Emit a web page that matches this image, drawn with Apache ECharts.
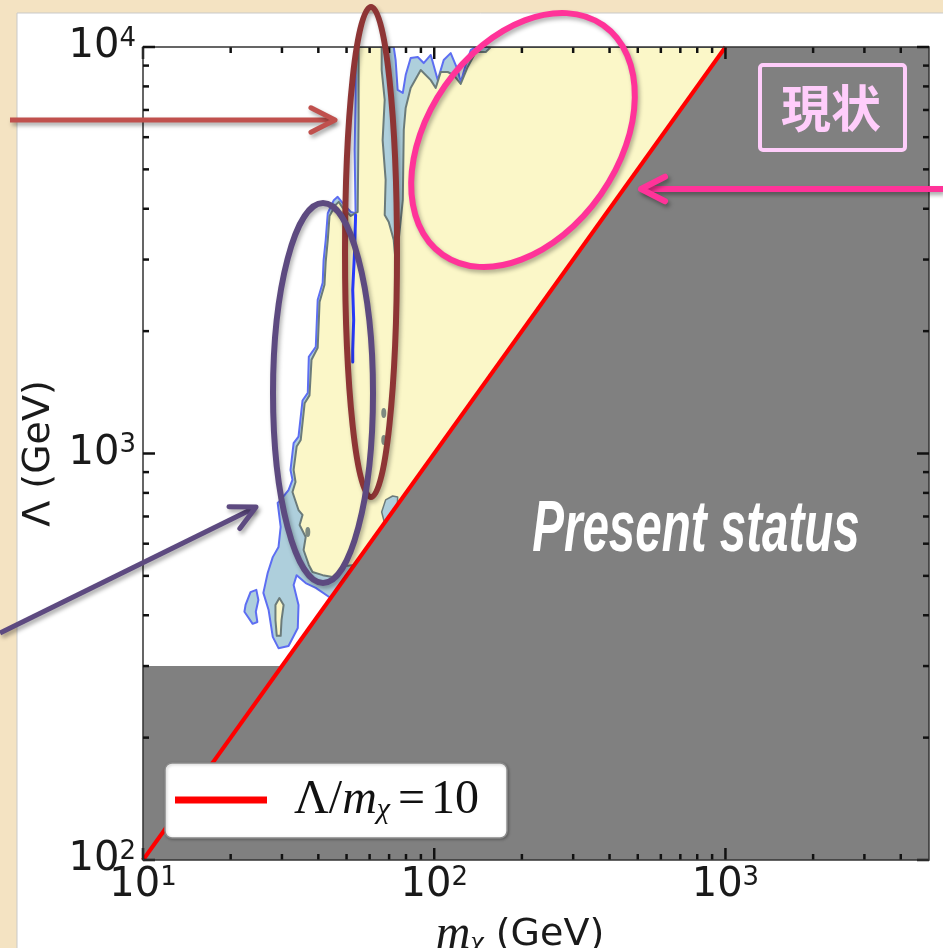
<!DOCTYPE html>
<html><head><meta charset="utf-8">
<script src="https://cdn.jsdelivr.net/npm/echarts@6/dist/echarts.min.js"></script>
<style>html,body{margin:0;padding:0;background:#f4e3c2;}#c{width:943px;height:948px;}</style>
</head><body><div id="c"></div><script>
// ---- data (mχ in GeV, Λ in GeV) ----
const xMajorTicks = [10, 100, 1000];
const xMinorTicks = [20, 30, 40, 50, 60, 70, 80, 90, 200, 300, 400, 500, 600, 700, 800, 900, 2000, 3000, 4000];
const yMajorTicks = [100, 1000, 10000];
const yMinorTicks = [200, 300, 400, 500, 600, 700, 800, 900, 2000, 3000, 4000, 5000, 6000, 7000, 8000, 9000];
const ratioLine = [[10, 100], [1000, 10000]];
const excludedRegion = [[10, 100], [10, 300], [30, 300], [1000, 10000], [5000, 10000], [5000, 100]];
const outerContour = [[53.7,10000],[53.7,7410],[53.3,5580],[53.7,3900],[51.7,3930],[48.5,4130],[46.6,4280],[45.2,4200],[43.1,3900],[42.4,3350],[41.7,2990],[41.4,2630],[39.8,2390],[39.2,1830],[37.1,1730],[36.8,1410],[35.3,1350],[34.2,1100],[32.9,1060],[32.1,911],[32.6,861],[31.6,813],[29.7,769],[29.0,756],[29.7,660],[29.2,589],[27.9,556],[26.8,508],[25.9,454],[27.0,412],[27.9,354],[29.2,332],[31.6,336],[34.0,372],[34.2,424],[32.9,475],[33.7,502],[36.2,480],[39.2,467],[44.1,441],[1000,10000],[138.9,10000],[133.5,9830],[128.3,9030],[123.3,8200],[120.4,8780],[113.9,9660],[107.8,9290],[102.8,8290],[97.3,9560],[92.0,9130],[87.8,9450],[83.0,9400],[79.8,8530],[78.0,7710],[74.9,7840],[73.7,9290],[72.6,10000]];
const outerIsland = [[22.5,424],[23.4,456],[24.5,462],[24.9,436],[24.4,408],[24.7,385],[23.8,381],[22.3,408]];
const innerContour = [[55.0,10000],[55.0,6610],[54.6,3930],[51.7,3840],[48.5,4020],[47.0,4160],[45.9,4090],[43.7,3840],[43.1,3350],[42.4,2960],[42.0,2600],[40.4,2360],[39.8,1820],[37.9,1700],[37.3,1390],[35.9,1330],[34.8,1080],[33.7,1040],[32.9,911],[33.4,851],[32.6,804],[34.2,726],[35.3,706],[34.5,667],[36.2,623],[35.6,579],[37.1,532],[38.2,511],[41.4,502],[44.8,497],[49.6,529],[53.2,532],[1000,10000],[156.4,10000],[150.3,9720],[138.9,9720],[130.3,8930],[123.3,8110],[116.7,8530],[111.3,8680],[105.3,8680],[101.2,7930],[97.3,8290],[89.9,8780],[83.0,7930],[79.8,7080],[78.6,6250],[78.0,4200],[75.5,3350],[74.9,2390],[73.7,2390],[73.7,2960],[72.6,3350],[69.8,3710],[67.6,3860],[68.1,4710],[66.5,5900],[67.6,7410],[66.0,8780],[66.0,10000]];
const innerIsland = [[28.5,424],[29.4,441],[30.4,424],[29.9,389],[29.7,356],[28.8,356],[28.5,389]];
const bandIsland = [[67.5,675],[66.0,718],[68.1,769],[72.0,786],[74.9,782],[74.7,747]];
const slitLine = [[53.7,3860],[53.3,3170],[52.5,2525],[52.9,2130],[52.5,1800],[52.5,1680]];
const spots = [[36.8,641],[67.1,1258],[67.1,1080]];
const legendLabel = 'Λ/mχ = 10';

function polygonSeries(name, pts, style, z) {
  return {
    type: 'custom', name: name, z: z, silent: true, clip: true,
    coordinateSystem: 'cartesian2d', encode: {x: 0, y: 1}, data: pts,
    renderItem: function (params, api) {
      if (params.dataIndex !== 0) return null;
      return {type: 'polygon', shape: {points: pts.map(function (p) { return api.coord(p); })}, style: style};
    }
  };
}
function polylineSeries(name, pts, style, z) {
  return {
    type: 'custom', name: name, z: z, silent: true, clip: true,
    coordinateSystem: 'cartesian2d', encode: {x: 0, y: 1}, data: pts,
    renderItem: function (params, api) {
      if (params.dataIndex !== 0) return null;
      return {type: 'polyline', shape: {points: pts.map(function (p) { return api.coord(p); })}, style: style};
    }
  };
}
const tickStyle = {stroke: '#111', lineWidth: 2.5};
function xTickSeries() {
  const data = xMajorTicks.map(v => [v, 100, 1]).concat(xMinorTicks.map(v => [v, 100, 0]));
  return {
    type: 'custom', name: 'xticks', z: 8, silent: true, clip: false, coordinateSystem: 'cartesian2d', encode: {x: 0, y: 1}, data: data,
    renderItem: function (params, api) {
      const cs = params.coordSys;
      const x = api.coord([api.value(0), api.value(1)])[0];
      const len = api.value(2) ? 12 : 6;
      const b = cs.y + cs.height, t = cs.y;
      return {type: 'group', children: [
        {type: 'line', shape: {x1: x, y1: b, x2: x, y2: b - len}, style: tickStyle},
        {type: 'line', shape: {x1: x, y1: t, x2: x, y2: t + len}, style: tickStyle}
      ]};
    }
  };
}
function yTickSeries() {
  const data = yMajorTicks.map(v => [10, v, 1]).concat(yMinorTicks.map(v => [10, v, 0]));
  return {
    type: 'custom', name: 'yticks', z: 8, silent: true, clip: false, coordinateSystem: 'cartesian2d', encode: {x: 0, y: 1}, data: data,
    renderItem: function (params, api) {
      const cs = params.coordSys;
      const y = api.coord([api.value(0), api.value(1)])[1];
      const len = api.value(2) ? 12 : 6;
      const l = cs.x, r = cs.x + cs.width;
      const children = [
        {type: 'line', shape: {x1: l, y1: y, x2: l + len, y2: y}, style: tickStyle},
        {type: 'line', shape: {x1: r, y1: y, x2: r - len, y2: y}, style: tickStyle}
      ];
      if (params.dataIndex === 0) {
        children.push({type: 'rect', shape: {x: cs.x, y: cs.y, width: cs.width, height: cs.height},
          style: {fill: null, stroke: '#333', lineWidth: 1.5}});
      }
      return {type: 'group', children: children};
    }
  };
}
function arrow(x1, y1, x2, y2, color, w) {
  const dx = x2 - x1, dy = y2 - y1, L = Math.hypot(dx, dy), ux = dx / L, uy = dy / L;
  const hl = 27, a = 27 * Math.PI / 180, c = Math.cos(a), s = Math.sin(a);
  const p1 = [x2 - hl * (ux * c - uy * s), y2 - hl * (uy * c + ux * s)];
  const p2 = [x2 - hl * (ux * c + uy * s), y2 - hl * (uy * c - ux * s)];
  const sh = {shadowBlur: 4, shadowOffsetX: 2, shadowOffsetY: 3, shadowColor: 'rgba(0,0,0,0.35)'};
  return [
    {type: 'line', z: 60, shape: {x1: x1, y1: y1, x2: x2 - ux * 2, y2: y2 - uy * 2}, style: Object.assign({stroke: color, lineWidth: w, lineCap: 'butt'}, sh)},
    {type: 'polyline', z: 60, shape: {points: [p1, [x2, y2], p2]}, style: Object.assign({stroke: color, lineWidth: w, fill: null, lineCap: 'round', lineJoin: 'round'}, sh)}
  ];
}
function fmtLog(value) {
  const e = Math.log10(value);
  if (Math.abs(e - Math.round(e)) > 1e-6) return '';
  return '{b|10}{e|' + Math.round(e) + '}';
}
const labelRich = {
  b: {fontFamily: 'DejaVu Sans', fontSize: 40, lineHeight: 42, color: '#1a1a1a'},
  e: {fontFamily: 'DejaVu Sans', fontSize: 26, lineHeight: 14, verticalAlign: 'top', color: '#1a1a1a'}
};
const sh = {shadowBlur: 4, shadowOffsetX: 2, shadowOffsetY: 3, shadowColor: 'rgba(0,0,0,0.3)'};
const serif = 'Liberation Serif';

const chart = echarts.init(document.getElementById('c'), null, {renderer: 'canvas'});
chart.setOption({
  backgroundColor: '#f4e3c2',
  animation: false,
  grid: {left: 143, top: 47, width: 786, height: 813, containLabel: false, outerBoundsMode: 'none'},
  xAxis: {
    type: 'log', logBase: 10, min: 10, max: 5000,
    axisLine: {show: false}, axisTick: {show: false}, splitLine: {show: false},
    axisLabel: {formatter: fmtLog, margin: 5, rich: labelRich},
    name: '{m|m}{c|χ}{g| (GeV)}', nameLocation: 'middle', nameGap: 48,
    nameTextStyle: {padding: [0, 32, 0, 0], rich: {
      m: {fontFamily: serif, fontStyle: 'italic', fontSize: 48, lineHeight: 46, color: '#1a1a1a'},
      c: {fontFamily: serif, fontStyle: 'italic', fontSize: 30, lineHeight: 24, verticalAlign: 'bottom', color: '#1a1a1a'},
      g: {fontFamily: 'DejaVu Sans', fontSize: 38, lineHeight: 46, color: '#1a1a1a'}
    }}
  },
  yAxis: {
    type: 'log', logBase: 10, min: 100, max: 10000,
    axisLine: {show: false}, axisTick: {show: false}, splitLine: {show: false},
    axisLabel: {formatter: fmtLog, margin: 7, rich: labelRich},
    name: 'Λ (GeV)', nameLocation: 'middle', nameGap: 84, nameRotate: 90,
    nameTextStyle: {fontFamily: 'DejaVu Sans', fontSize: 38, color: '#1a1a1a'}
  },
  legend: {
    show: true, z: 20, data: [legendLabel], left: 165, top: 763, padding: [13, 28, 13, 10],
    backgroundColor: '#ffffff', borderColor: '#8a8a8a', borderWidth: 1.5, borderRadius: 7,
    shadowBlur: 3, shadowColor: 'rgba(0,0,0,0.25)', shadowOffsetX: 1, shadowOffsetY: 1,
    itemWidth: 92, itemHeight: 7, icon: 'rect', selectedMode: false,
    formatter: function () { return '{p|Λ/}{m|m}{c|χ}{q|=}{a|10}'; },
    textStyle: {rich: {
      p: {fontFamily: serif, fontSize: 48, lineHeight: 50, padding: [0, 0, 0, 22], color: '#111'},
      a: {fontFamily: serif, fontSize: 48, lineHeight: 50, color: '#111'},
      q: {fontFamily: serif, fontSize: 48, lineHeight: 50, padding: [0, 6, 0, 8], color: '#111'},
      m: {fontFamily: serif, fontStyle: 'italic', fontSize: 48, lineHeight: 50, color: '#111'},
      c: {fontFamily: serif, fontStyle: 'italic', fontSize: 30, lineHeight: 24, verticalAlign: 'bottom', color: '#111'}
    }}
  },
  series: [
    polygonSeries('outer', outerContour, {fill: '#aecfdc', stroke: '#5d6ef2', lineWidth: 2, lineJoin: 'round'}, 2),
    polygonSeries('outerIsland', outerIsland, {fill: '#aecfdc', stroke: '#5d6ef2', lineWidth: 2, lineJoin: 'round'}, 2),
    polygonSeries('inner', innerContour, {fill: '#fbf7c8', stroke: '#6b7b7a', lineWidth: 2, lineJoin: 'round'}, 3),
    polygonSeries('innerIsland', innerIsland, {fill: '#fbf7c8', stroke: '#6b7b7a', lineWidth: 2, lineJoin: 'round'}, 3),
    polygonSeries('bandIsland', bandIsland, {fill: '#aecfdc', stroke: '#6b7b7a', lineWidth: 1.5, lineJoin: 'round'}, 4),
    polylineSeries('slit', slitLine, {stroke: '#2a3cff', lineWidth: 3, fill: null, lineCap: 'round'}, 4),
    {type: 'scatter', name: 'spots', z: 4, silent: true, data: spots, symbol: 'circle', symbolSize: [5, 10],
      itemStyle: {color: '#5f6f6f'}},
    polygonSeries('excluded', excludedRegion, {fill: '#808080'}, 5),
    {type: 'line', name: legendLabel, z: 6, data: ratioLine, symbol: 'none', clip: true,
      lineStyle: {color: '#ff0000', width: 4}, itemStyle: {color: '#ff0000'}},
    xTickSeries(),
    yTickSeries()
  ],
  graphic: [
    {type: 'rect', z: -10, silent: true, shape: {x: 17, y: 13, width: 940, height: 950}, style: {fill: '#ffffff', stroke: '#c9c9c9', lineWidth: 1}},
    {type: 'text', z: 50, silent: true, x: 696, y: 531, scaleX: 0.66,
      style: {text: 'Present status', font: 'italic bold 72px "Liberation Sans", sans-serif', fill: '#ffffff', align: 'center', verticalAlign: 'middle'}},
    {type: 'rect', z: 50, silent: true, shape: {x: 760, y: 65, width: 145, height: 85, r: 3}, style: {fill: null, stroke: '#ffcdfb', lineWidth: 4}},
    {type: 'text', z: 50, silent: true, x: 831, y: 108,
      style: {text: '現状', font: 'bold 50px "Noto Sans CJK JP", sans-serif', fill: '#ffcdfb', align: 'center', verticalAlign: 'middle'}},
    {type: 'ellipse', z: 60, silent: true, shape: {cx: 371, cy: 252, rx: 26, ry: 245}, style: Object.assign({fill: null, stroke: '#8e3535', lineWidth: 6}, sh)},
    {type: 'ellipse', z: 60, silent: true, shape: {cx: 323, cy: 393, rx: 50, ry: 190}, style: Object.assign({fill: null, stroke: '#5d4a80', lineWidth: 6}, sh)},
    {type: 'ellipse', z: 60, silent: true, x: 523, y: 140, rotation: 55 * Math.PI / 180, shape: {cx: 0, cy: 0, rx: 140, ry: 95}, style: Object.assign({fill: null, stroke: '#ff3399', lineWidth: 6}, sh)}
  ].concat(arrow(10, 120, 335, 120, '#c0504d', 5))
   .concat(arrow(943, 189, 641, 189, '#ff3399', 6))
   .concat(arrow(0, 633, 256, 507, '#5d4a80', 5))
});
</script></body></html>
